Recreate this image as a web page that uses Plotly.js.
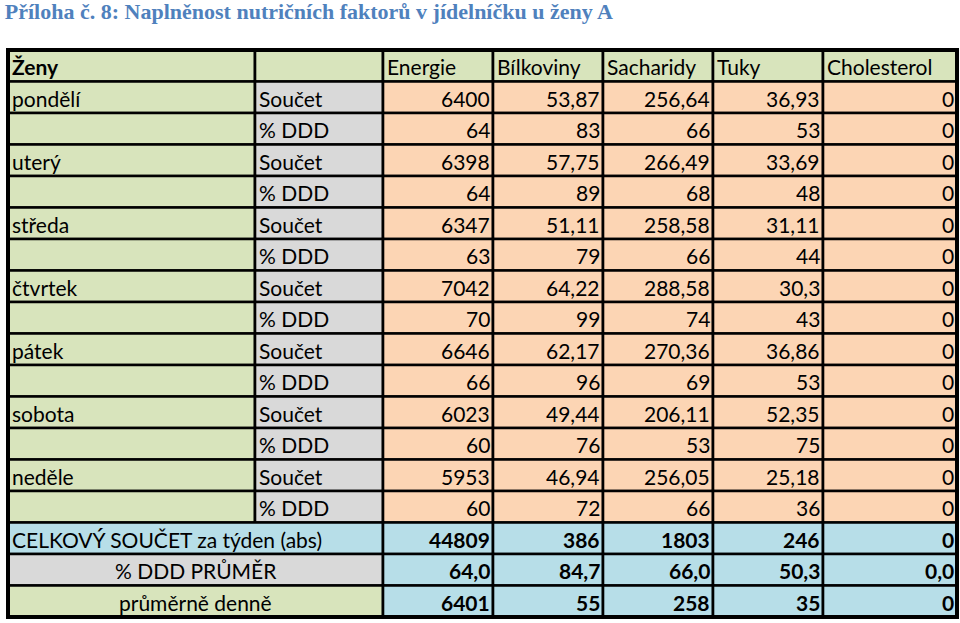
<!DOCTYPE html>
<html>
<head>
<meta charset="utf-8">
<script src="https://cdn.plot.ly/plotly-3.0.1.min.js"></script>
<style>
  html, body { margin: 0; padding: 0; background: #fff; }
  #chart { width: 960px; height: 623px; }
</style>
</head>
<body>
<div id="chart"></div>
<script>
const days = ['pondělí', 'uterý', 'středa', 'čtvrtek', 'pátek', 'sobota', 'neděle'];
const nutrients = ['Energie', 'Bílkoviny', 'Sacharidy', 'Tuky', 'Cholesterol'];
const rowKinds = ['Součet', '% DDD'];

// Součet per day, one array per nutrient
const soucetEnergie = [6400, 6398, 6347, 7042, 6646, 6023, 5953];
const soucetBilkoviny = [53.87, 57.75, 51.11, 64.22, 62.17, 49.44, 46.94];
const soucetSacharidy = [256.64, 266.49, 258.58, 288.58, 270.36, 206.11, 256.05];
const soucetTuky = [36.93, 33.69, 31.11, 30.3, 36.86, 52.35, 25.18];
const soucetCholesterol = [0, 0, 0, 0, 0, 0, 0];

// % DDD per day
const dddEnergie = [64, 64, 63, 70, 66, 60, 60];
const dddBilkoviny = [83, 89, 79, 99, 96, 76, 72];
const dddSacharidy = [66, 68, 66, 74, 69, 53, 66];
const dddTuky = [53, 48, 44, 43, 53, 75, 36];
const dddCholesterol = [0, 0, 0, 0, 0, 0, 0];

// summary rows
const summaryLabels = ['CELKOVÝ SOUČET za týden (abs)', '% DDD PRŮMĚR', 'průměrně denně'];
const celkemTyden = [44809, 386, 1803, 246, 0];
const dddPrumer = [64.0, 84.7, 66.0, 50.3, 0.0];
const prumerDenne = [6401, 55, 258, 35, 0];

const soucet = [soucetEnergie, soucetBilkoviny, soucetSacharidy, soucetTuky, soucetCholesterol];
const ddd = [dddEnergie, dddBilkoviny, dddSacharidy, dddTuky, dddCholesterol];

// layout geometry (pixels)
const colEdges = [8, 255, 383, 493, 603, 713, 823, 957];
const top0 = 50, rowH = 31.5;
const GREEN = '#d8e4bc', GREY = '#d9d9d9', PEACH = '#fcd5b4', BLUE = '#b7dee8';
const fontFam = 'Lato, "Open Sans", sans-serif';
const fs = 21;

const shapes = [];
const annotations = [];
const cz = v => String(v).replace('.', ',');

function cell(r, c0, c1, fill) {
  shapes.push({type: 'rect', xref: 'x', yref: 'y', layer: 'below',
    x0: colEdges[c0], x1: colEdges[c1], y0: top0 + r * rowH, y1: top0 + (r + 1) * rowH,
    fillcolor: fill, line: {color: '#000', width: 2.6}});
}
function txt(r, c0, c1, s, align, bold) {
  let x, anchor = align;
  if (align === 'left') x = colEdges[c0] + 2;
  else if (align === 'right') x = colEdges[c1] - 1;
  else x = (colEdges[c0] + colEdges[c1]) / 2;
  annotations.push({xref: 'x', yref: 'y', x: x, y: top0 + (r + 0.5) * rowH + 1,
    text: bold ? '<b>' + s + '</b>' : s, showarrow: false, xanchor: anchor, yanchor: 'middle',
    font: {family: fontFam, size: fs, color: '#000'}});
}

// header
cell(0, 0, 1, GREEN); txt(0, 0, 1, 'Ženy', 'left', true);
cell(0, 1, 2, GREEN);
nutrients.forEach((n, j) => { cell(0, j + 2, j + 3, GREEN); txt(0, j + 2, j + 3, n, 'left', false); });

// day rows
days.forEach((d, i) => {
  [soucet, ddd].forEach((src, k) => {
    const r = 1 + i * 2 + k;
    cell(r, 0, 1, GREEN);
    if (k === 0) txt(r, 0, 1, d, 'left', false);
    cell(r, 1, 2, GREY); txt(r, 1, 2, rowKinds[k], 'left', false);
    src.forEach((arr, j) => { cell(r, j + 2, j + 3, PEACH); txt(r, j + 2, j + 3, cz(arr[i]), 'right', false); });
  });
});

// summary rows
const sumRows = [celkemTyden.map(v => cz(v)), dddPrumer.map(v => cz(v.toFixed(1))), prumerDenne.map(v => cz(v))];
const sumFills = [BLUE, GREY, GREEN];
const sumAlign = ['left', 'center', 'center'];
sumRows.forEach((vals, k) => {
  const r = 15 + k;
  cell(r, 0, 2, sumFills[k]); txt(r, 0, 2, summaryLabels[k], sumAlign[k], false);
  vals.forEach((v, j) => { cell(r, j + 2, j + 3, BLUE); txt(r, j + 2, j + 3, v, 'right', true); });
});

// outer frame
shapes.push({type: 'rect', xref: 'x', yref: 'y', x0: colEdges[0], x1: colEdges[7],
  y0: top0, y1: top0 + 18 * rowH, line: {color: '#000', width: 4}});

const data = [{x: [0, 960], y: [0, 623], mode: 'markers', marker: {opacity: 0}, hoverinfo: 'skip', showlegend: false}];

const layout = {
  width: 960, height: 623,
  margin: {l: 0, r: 0, t: 0, b: 0},
  paper_bgcolor: '#fff', plot_bgcolor: '#fff',
  title: {text: '<b>Příloha č. 8: Naplněnost nutričních faktorů v jídelníčku u ženy A</b>',
    x: 0.005, xanchor: 'left', y: 1 - 11 / 623, yanchor: 'middle', yref: 'container',
    font: {family: '"Liberation Serif", "Times New Roman", serif', size: 22, color: '#4f81bd'}},
  xaxis: {range: [0, 960], visible: false, fixedrange: true},
  yaxis: {range: [623, 0], visible: false, fixedrange: true},
  shapes: shapes,
  annotations: annotations
};

Plotly.newPlot('chart', data, layout, {displayModeBar: false, staticPlot: true});
</script>
</body>
</html>
